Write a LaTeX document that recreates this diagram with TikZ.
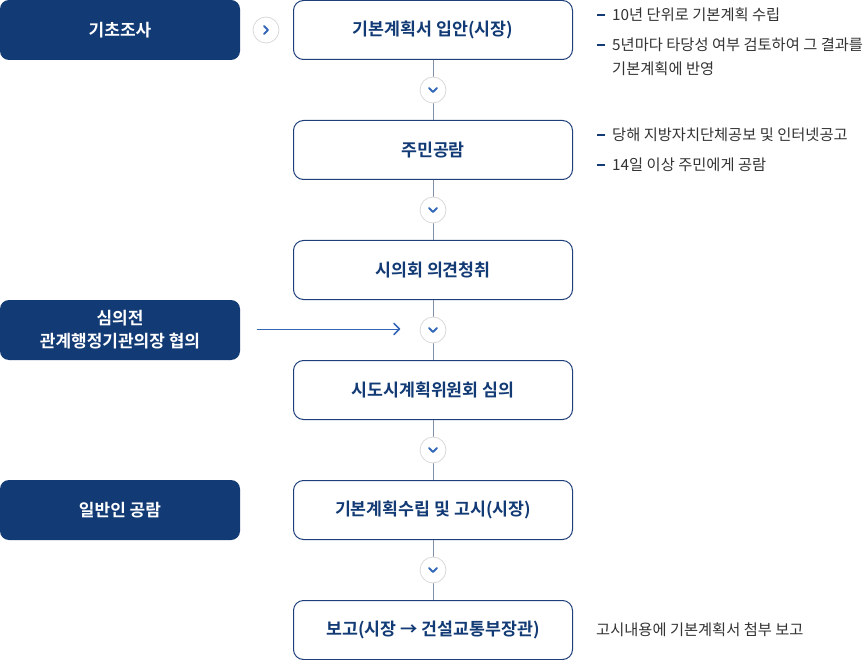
\documentclass[tikz,border=0pt]{standalone}
\usepackage{fontspec}
\setmainfont{Noto Sans CJK KR}
\newfontfamily\kb{Noto Sans CJK KR Bold}
\usetikzlibrary{arrows.meta,calc}
\definecolor{navy}{HTML}{123A75}
\definecolor{bord}{HTML}{1E3F7A}
\definecolor{vline}{HTML}{7F8FA8}
\definecolor{circ}{HTML}{D9D9D9}
\definecolor{chev}{HTML}{3567B8}
\definecolor{txt}{HTML}{333333}
\tikzset{
  leftbox/.style={draw=none,fill=navy,rounded corners=9pt,minimum width=240pt,minimum height=60pt,text=white,font=\kb\fontsize{17}{23}\selectfont,align=center,inner sep=0pt},
  stepbox/.style={draw=bord,line width=1pt,fill=white,rounded corners=10pt,minimum width=279pt,minimum height=59pt,text=navy,font=\kb\fontsize{17.3}{21}\selectfont,inner sep=0pt},
  roundbtn/.style={circle,draw=circ,line width=0.8pt,fill=white,minimum size=26pt,inner sep=0pt},
  side/.style={anchor=west,text=txt,font=\fontsize{15.3}{18}\selectfont,inner sep=0pt},
  dashmark/.style={draw=navy,line width=1.3pt}
}
\begin{document}
\begin{tikzpicture}[x=1pt,y=-1pt]
\useasboundingbox (0,0) rectangle (864,660);
% left boxes
\node[leftbox] (L1) at (120,30) {기초조사};
\node[leftbox] (L2) at (120,330) {심의전\\관계행정기관의장 협의};
\node[leftbox] (L3) at (120,510) {일반인 공람};
% center steps
\node[stepbox] (S1) at (433,30) {기본계획서 입안(시장)};
\node[stepbox] (S2) at (433,150) {주민공람};
\node[stepbox] (S3) at (433,270) {시의회 의견청취};
\node[stepbox] (S4) at (433,390) {시도시계획위원회 심의};
\node[stepbox] (S5) at (433,510) {기본계획수립 및 고시(시장)};
\node[stepbox] (S6) at (433,630) {보고(시장 → 건설교통부장관)};
% connectors
\foreach \a/\b/\y in {S1/S2/90,S2/S3/210,S3/S4/330,S4/S5/450,S5/S6/570}{
  \draw[vline,line width=1pt] (\a.south) -- (\b.north);
  \node[roundbtn] (C\y) at (433,\y) {};
  \draw[chev,line width=1.8pt,line cap=round,line join=round] ($(C\y)+(-4,-2)$) -- ($(C\y)+(0,2)$) -- ($(C\y)+(4,-2)$);
}
% right arrow button
\node[roundbtn] (R1) at (266,30) {};
\draw[chev,line width=1.8pt,line cap=round,line join=round] ($(R1)+(-2,-4)$) -- ($(R1)+(2,0)$) -- ($(R1)+(-2,4)$);
% left arrow to circle
\coordinate (A0) at (257,329);
\coordinate (A1) at (399,329);
\draw[chev,line width=1pt] (A0) -- (A1);
\draw[chev,line width=1.5pt,line cap=round,line join=round] (394,323.5) -- (399.5,329) -- (394,334.5);
% side notes
\draw[dashmark] (597,15) -- (605,15);
\node[side] (T1) at (612,15) {10년 단위로 기본계획 수립};
\draw[dashmark] (597,45) -- (605,45);
\node[side] (T2) at (612,45) {5년마다 타당성 여부 검토하여 그 결과를};
\node[side] (T3) at (612,69) {기본계획에 반영};
\draw[dashmark] (597,135) -- (605,135);
\node[side] (T4) at (612,135) {당해 지방자치단체공보 및 인터넷공고};
\draw[dashmark] (597,165) -- (605,165);
\node[side] (T5) at (612,165) {14일 이상 주민에게 공람};
\node[side] (T6) at (596,630) {고시내용에 기본계획서 첨부 보고};
\end{tikzpicture}
\end{document}
